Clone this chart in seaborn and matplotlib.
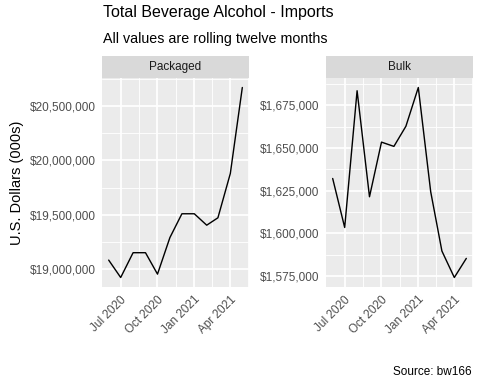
import pandas as pd

import matplotlib
matplotlib.use("Agg")
import matplotlib.pyplot as plt
import matplotlib.dates as mdates
from matplotlib.ticker import MultipleLocator, FuncFormatter
import seaborn as sns

# Data (rolling twelve months, U.S. dollars in 000s)
months = [
    "2020-06-01", "2020-07-01", "2020-08-01", "2020-09-01",
    "2020-10-01", "2020-11-01", "2020-12-01", "2021-01-01",
    "2021-02-01", "2021-03-01", "2021-04-01", "2021-05-01"
]
packaged = [
    19083000, 18923000, 19151000, 19151000,
    18954000, 19290000, 19509000, 19509000,
    19404000, 19472000, 19879000, 20670000
]
bulk = [
    1632200, 1603500, 1683600, 1621500,
    1653500, 1651000, 1662800, 1685500,
    1624400, 1589700, 1574200, 1585400
]
facets = ["Packaged", "Bulk"]
y_steps = [500000, 25000]

df = pd.DataFrame({
    "month": pd.to_datetime(months * 2),
    "value": packaged + bulk,
    "type": [facets[0]] * len(months) + [facets[1]] * len(months)
})

sns.set_style("darkgrid", {
    "axes.facecolor": "#EBEBEB",
    "grid.color": "white",
    "axes.edgecolor": "#EBEBEB",
})
plt.rcParams["font.family"] = ["Liberation Sans", "DejaVu Sans"]

W, H = 480, 384
fig = plt.figure(figsize=(W / 72, H / 72), dpi=72)

panels = [(102, 249), (326, 473)]
top, bottom = 78, 287
strip_top = 56

money = FuncFormatter(lambda v, p: f"${v:,.0f}")

for (x0, x1), name, step in zip(panels, facets, y_steps):
    ax = fig.add_axes([x0 / W, 1 - bottom / H, (x1 - x0) / W, (bottom - top) / H])
    sub = df[df["type"] == name]
    sns.lineplot(data=sub, x="month", y="value", color="black",
                 linewidth=1.4, ax=ax)
    ax.set_xlabel("")
    ax.set_ylabel("")
    ax.margins(x=0.05, y=0.05)

    ax.xaxis.set_major_locator(mdates.MonthLocator(bymonth=[1, 4, 7, 10]))
    ax.xaxis.set_minor_locator(mdates.MonthLocator(bymonth=[2, 5, 8, 11], bymonthday=15))
    ax.xaxis.set_major_formatter(mdates.DateFormatter("%b %Y"))
    ax.yaxis.set_major_locator(MultipleLocator(step))
    ax.yaxis.set_minor_locator(MultipleLocator(step / 2))
    ax.yaxis.set_major_formatter(money)

    ax.grid(which="major", color="white", linewidth=1.8)
    ax.grid(which="minor", color="white", linewidth=0.9)
    ax.tick_params(which="major", length=3.7, width=1.4, color="#333333",
                   labelsize=11.7, labelcolor="#4D4D4D", pad=2.9)
    ax.tick_params(which="minor", length=0)
    for lab in ax.get_xticklabels():
        lab.set_rotation(45)
        lab.set_ha("right")
        lab.set_rotation_mode("anchor")
    for s in ax.spines.values():
        s.set_visible(False)

    # facet strip
    strip = fig.add_axes([x0 / W, 1 - top / H, (x1 - x0) / W, (top - strip_top) / H])
    strip.set_facecolor("#D9D9D9")
    strip.set_xticks([])
    strip.set_yticks([])
    strip.grid(False)
    for s in strip.spines.values():
        s.set_visible(False)
    strip.text(0.5, 0.5, name, ha="center", va="center",
               fontsize=11.7, color="#1A1A1A", transform=strip.transAxes)

fig.text(103 / W, 1 - 5 / H, "Total Beverage Alcohol - Imports",
         ha="left", va="top", fontsize=16, color="black")
fig.text(103 / W, 1 - 32 / H, "All values are rolling twelve months",
         ha="left", va="top", fontsize=14.3, color="black")
fig.text(17 / W, 1 - (top + bottom) / 2 / H, "U.S. Dollars (000s)",
         rotation=90, ha="center", va="center", fontsize=14.6, color="black")
fig.text(472 / W, 1 - 378 / H, "Source: bw166",
         ha="right", va="bottom", fontsize=11.7, color="black")

fig.savefig("out.png", dpi=72)
plt.close()
